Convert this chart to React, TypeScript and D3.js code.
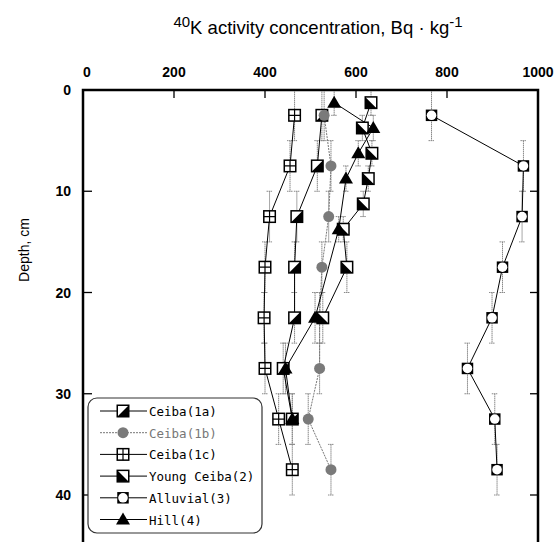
import React, { useEffect, useRef } from 'react';
import * as d3 from 'd3';

// depth (cm) of each sample and its 40K activity (Bq/kg)
const ceiba1aDepth = [2.5, 7.5, 12.5, 17.5, 22.5, 27.5, 32.5];
const ceiba1aValue = [525, 515, 470, 465, 465, 440, 460];
const ceiba1bDepth = [2.5, 7.5, 12.5, 17.5, 22.5, 27.5, 32.5, 37.5];
const ceiba1bValue = [530, 545, 540, 525, 520, 520, 495, 545];
const ceiba1cDepth = [2.5, 7.5, 12.5, 17.5, 22.5, 27.5, 32.5, 37.5];
const ceiba1cValue = [465, 455, 410, 400, 398, 400, 430, 460];
const youngDepth = [1.25, 3.75, 6.25, 8.75, 11.25, 13.75, 17.5, 22.5];
const youngValue = [633, 614, 635, 627, 616, 572, 580, 527];
const alluvialDepth = [2.5, 7.5, 12.5, 17.5, 22.5, 27.5, 32.5, 37.5];
const alluvialValue = [766, 968, 965, 922, 899, 845, 905, 910];
const hillDepth = [1.25, 3.75, 6.25, 8.75, 13.75, 22.5, 27.5, 32.5];
const hillValue = [552, 638, 605, 578, 562, 510, 445, 460];
// half-thickness of each sampled layer (vertical error bar)
const ceibaHalf = 2.5;
const youngHalf = 1.25;

const xTicks = [0, 200, 400, 600, 800, 1000];
const yTicks = [0, 10, 20, 30, 40];

type Marker = 'halfBR' | 'circle' | 'grid' | 'halfBL' | 'ringSquare' | 'triangle';

const series = [
  { name: 'Ceiba(1a)', depth: ceiba1aDepth, value: ceiba1aValue, half: ceiba1aDepth.map(() => ceibaHalf), marker: 'halfBR' as Marker, gray: false },
  { name: 'Ceiba(1b)', depth: ceiba1bDepth, value: ceiba1bValue, half: ceiba1bDepth.map(() => ceibaHalf), marker: 'circle' as Marker, gray: true },
  { name: 'Ceiba(1c)', depth: ceiba1cDepth, value: ceiba1cValue, half: ceiba1cDepth.map(() => ceibaHalf), marker: 'grid' as Marker, gray: false },
  { name: 'Young Ceiba(2)', depth: youngDepth, value: youngValue, half: youngDepth.map(d => (d < 15 ? youngHalf : ceibaHalf)), marker: 'halfBL' as Marker, gray: false },
  { name: 'Alluvial(3)', depth: alluvialDepth, value: alluvialValue, half: alluvialDepth.map(() => ceibaHalf), marker: 'ringSquare' as Marker, gray: false },
  { name: 'Hill(4)', depth: hillDepth, value: hillValue, half: hillDepth.map(d => (d < 15 ? youngHalf : ceibaHalf)), marker: 'triangle' as Marker, gray: false },
];

const drawMarker = (g: any, type: Marker, cx: number, cy: number) => {
  const s = 11.5;
  const x1 = cx - s / 2, y1 = cy - s / 2, x2 = cx + s / 2, y2 = cy + s / 2;
  if (type === 'circle') {
    g.append('circle').attr('cx', cx).attr('cy', cy).attr('r', 5.5).attr('fill', '#7a7a7a');
    return;
  }
  if (type === 'triangle') {
    g.append('path')
      .attr('d', `M${cx},${cy - 7}L${cx + 7},${cy + 5}L${cx - 7},${cy + 5}Z`)
      .attr('fill', '#000');
    return;
  }
  if (type === 'ringSquare') {
    g.append('rect').attr('x', x1).attr('y', y1).attr('width', s).attr('height', s).attr('fill', '#000');
    g.append('circle').attr('cx', cx).attr('cy', cy).attr('r', 4.8).attr('fill', '#fff');
    return;
  }
  g.append('rect').attr('x', x1).attr('y', y1).attr('width', s).attr('height', s)
    .attr('fill', '#fff').attr('stroke', '#000').attr('stroke-width', 1.5);
  if (type === 'grid') {
    g.append('path').attr('d', `M${cx},${y1}V${y2}M${x1},${cy}H${x2}`).attr('stroke', '#000').attr('stroke-width', 1.2);
  } else if (type === 'halfBR') {
    g.append('path').attr('d', `M${x1},${y2}L${x2},${y1}L${x2},${y2}Z`).attr('fill', '#000');
  } else if (type === 'halfBL') {
    g.append('path').attr('d', `M${x1},${y1}L${x2},${y2}L${x1},${y2}Z`).attr('fill', '#000');
  }
};

const App = () => {
  const svgRef = useRef<SVGSVGElement>(null);

  useEffect(() => {
    const svg = d3.select(svgRef.current);
    svg.selectAll('*').remove();

    const x = d3.scaleLinear().domain([0, 1000]).range([83, 538]);
    const y = d3.scaleLinear().domain([0, 40]).range([90, 495]);
    const bottom = 560;

    // title
    const title = svg.append('text')
      .attr('x', 318).attr('y', 34)
      .attr('text-anchor', 'middle')
      .attr('font-family', 'Liberation Sans, Arial, sans-serif')
      .attr('font-size', 18.5);
    title.append('tspan').attr('font-size', 15).attr('dy', -7).text('40');
    title.append('tspan').attr('dy', 7).text('K activity concentration, Bq \u00b7 kg');
    title.append('tspan').attr('font-size', 15).attr('dy', -7).text('-1');

    svg.append('text')
      .attr('transform', 'translate(29,250) rotate(-90)')
      .attr('text-anchor', 'middle')
      .attr('font-family', 'Liberation Sans, Arial, sans-serif')
      .attr('font-size', 14)
      .attr('fill', '#000')
      .text('Depth, cm');

    // tick labels
    svg.append('g').selectAll('text').data(xTicks).join('text')
      .attr('x', d => (d === 0 ? x(d) + 4 : x(d)))
      .attr('y', 77)
      .attr('text-anchor', 'middle')
      .attr('font-family', 'Liberation Sans, Arial, sans-serif')
      .attr('font-weight', 'bold')
      .attr('font-size', 14)
      .text(d => d);

    svg.append('g').selectAll('text').data(yTicks).join('text')
      .attr('x', 71)
      .attr('y', d => y(d) + 5)
      .attr('text-anchor', 'end')
      .attr('font-family', 'Liberation Sans, Arial, sans-serif')
      .attr('font-weight', 'bold')
      .attr('font-size', 14)
      .text(d => d);

    // ticks (inside the frame)
    const ticks = svg.append('g').attr('stroke', '#000').attr('stroke-width', 1.3);
    xTicks.slice(1, -1).forEach(t => {
      ticks.append('line').attr('x1', x(t)).attr('x2', x(t)).attr('y1', y(0)).attr('y2', y(0) + 8);
    });
    yTicks.slice(1).forEach(t => {
      ticks.append('line').attr('x1', x(0)).attr('x2', x(0) + 9).attr('y1', y(t)).attr('y2', y(t));
      ticks.append('line').attr('x1', x(1000)).attr('x2', x(1000) - 8).attr('y1', y(t)).attr('y2', y(t));
    });

    // error bars
    const eb = svg.append('g').attr('stroke', '#8a8a8a').attr('stroke-width', 1).attr('stroke-dasharray', '1.5,0.5');
    series.forEach(s => {
      s.depth.forEach((d, i) => {
        const cx = x(s.value[i]);
        const ya = y(d - s.half[i]);
        const yb = y(d + s.half[i]);
        eb.append('line').attr('x1', cx).attr('x2', cx).attr('y1', ya).attr('y2', yb);
        eb.append('line').attr('x1', cx - 3).attr('x2', cx + 3).attr('y1', ya).attr('y2', ya);
        eb.append('line').attr('x1', cx - 3).attr('x2', cx + 3).attr('y1', yb).attr('y2', yb);
      });
    });

    // lines
    const line = d3.line<[number, number]>().x(p => x(p[1])).y(p => y(p[0]));
    series.forEach(s => {
      svg.append('path')
        .datum(s.depth.map((d, i) => [d, s.value[i]] as [number, number]))
        .attr('d', line)
        .attr('fill', 'none')
        .attr('stroke', s.gray ? '#777' : '#000')
        .attr('stroke-width', 1)
        .attr('stroke-dasharray', s.gray ? '2,1' : null);
    });

    // markers
    series.forEach(s => {
      const g = svg.append('g');
      s.depth.forEach((d, i) => drawMarker(g, s.marker, x(s.value[i]), y(d)));
    });

    // frame
    svg.append('rect')
      .attr('x', x(0)).attr('y', y(0))
      .attr('width', x(1000) - x(0)).attr('height', bottom - y(0))
      .attr('fill', 'none').attr('stroke', '#000').attr('stroke-width', 2.5);

    // legend
    const lg = svg.append('g');
    lg.append('rect')
      .attr('x', 88).attr('y', 398).attr('width', 174).attr('height', 135)
      .attr('rx', 9).attr('fill', '#fff').attr('stroke', '#333').attr('stroke-width', 1.2);
    series.forEach((s, i) => {
      const ry = 411 + i * 21.7;
      lg.append('line').attr('x1', 100).attr('x2', 147).attr('y1', ry).attr('y2', ry)
        .attr('stroke', s.gray ? '#777' : '#000').attr('stroke-width', 1)
        .attr('stroke-dasharray', s.gray ? '2,1' : null);
      drawMarker(lg, s.marker, 123, ry);
      lg.append('text')
        .attr('x', 149).attr('y', ry + 5)
        .attr('font-family', 'DejaVu Sans Mono, Liberation Mono, monospace')
        .attr('font-size', 12.5)
        .attr('fill', s.gray ? '#777' : '#000')
        .text(s.name);
    });
  }, []);

  return (
    <svg ref={svgRef} width={560} height={542}
      style={{ position: 'absolute', left: 0, top: 0, background: '#fff' }} />
  );
};

export default App;
